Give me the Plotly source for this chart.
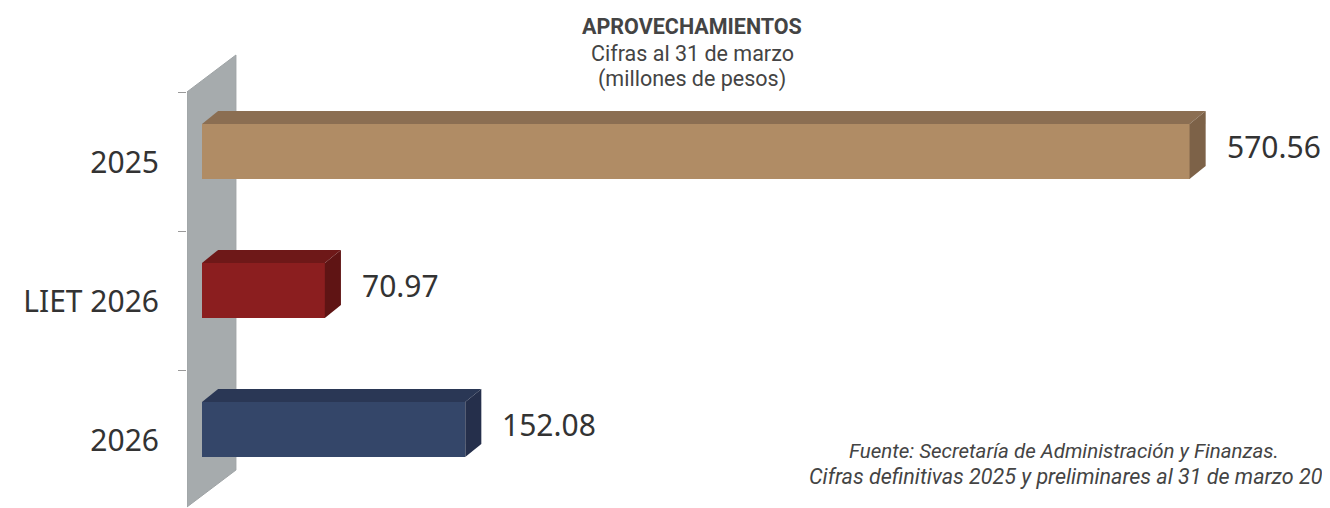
import plotly.graph_objects as go

# Datos del gráfico (millones de pesos)
categorias = ["2025", "LIET 2026", "2026"]
valores = [570.56, 70.97, 152.08]
etiquetas = ["570.56", "70.97", "152.08"]

# Colores de cada barra: cara frontal, cara superior y cara lateral
color_frente = ["#b08c65", "#8b1e1f", "#344669"]
color_superior = ["#8b6e52", "#6e1818", "#2a3755"]
color_lateral = ["#7d6248", "#5f1414", "#252f4b"]

lineas_titulo = ["<b>APROVECHAMIENTOS</b>", "Cifras al 31 de marzo", "(millones de pesos)"]
linea_fuente = "<i>Fuente: Secretaría de Administración y Finanzas.</i>"
linea_cifras = "<i>Cifras definitivas 2025 y preliminares al 31 de marzo 2026.</i>"

# Geometría del efecto 3D (en unidades de los ejes)
ANCHO_BARRA = 0.396
DESPLAZAMIENTO = -0.277
PROF_X = 9.3
PROF_Y = 0.094


def papel_y(px):
    # convierte una altura en píxeles (de la imagen original) a coordenadas paper
    return (508 - px) / 468


def papel_x(px):
    return (px - 187) / 1143


def generate_plot():
    fig = go.Figure()

    # Paso 1: caras frontales (barras horizontales)
    posiciones = list(range(len(categorias)))
    fig.add_trace(
        go.Bar(
            x=valores,
            y=posiciones,
            orientation="h",
            width=ANCHO_BARRA,
            offset=DESPLAZAMIENTO,
            marker=dict(color=color_frente, line=dict(width=0)),
            hoverinfo="skip",
            showlegend=False,
        )
    )

    # Paso 2: caras superior y lateral calculadas a partir de cada valor
    for i, v in enumerate(valores):
        y_arriba = i + DESPLAZAMIENTO
        y_abajo = y_arriba + ANCHO_BARRA
        fig.add_trace(
            go.Scatter(
                x=[0, v, v + PROF_X, PROF_X, 0],
                y=[y_arriba, y_arriba, y_arriba - PROF_Y, y_arriba - PROF_Y, y_arriba],
                mode="lines",
                fill="toself",
                fillcolor=color_superior[i],
                line=dict(width=0),
                hoverinfo="skip",
                showlegend=False,
            )
        )
        fig.add_trace(
            go.Scatter(
                x=[v, v + PROF_X, v + PROF_X, v, v],
                y=[y_arriba, y_arriba - PROF_Y, y_abajo - PROF_Y, y_abajo, y_arriba],
                mode="lines",
                fill="toself",
                fillcolor=color_lateral[i],
                line=dict(width=0),
                hoverinfo="skip",
                showlegend=False,
            )
        )
        # etiqueta del valor a la derecha de la barra
        fig.add_annotation(
            x=v + PROF_X + 11,
            y=(y_arriba + y_abajo) / 2 - 0.035,
            text=etiquetas[i],
            showarrow=False,
            xanchor="left",
            yanchor="middle",
            font=dict(family="Noto Sans", size=30, color="#333333"),
        )

    # Paso 3: pared gris del fondo
    fig.add_shape(
        type="path",
        path="M -8.7,-0.507 L 19.6,-0.773 L 19.6,2.213 L -8.7,2.479 Z",
        xref="x",
        yref="y",
        fillcolor="#a6abad",
        line=dict(color="#9ea3a5", width=1),
        layer="below",
    )

    # Paso 4: títulos (una anotación por línea) y nota de fuente
    for texto, arriba in zip(lineas_titulo, [12.1, 38.6, 63.6]):
        fig.add_annotation(
            x=papel_x(692),
            y=papel_y(arriba),
            xref="paper",
            yref="paper",
            text=texto,
            showarrow=False,
            xanchor="center",
            yanchor="top",
            font=dict(family="Roboto", size=21.5, color="#444444"),
        )

    fig.add_annotation(
        x=papel_x(1064),
        y=papel_y(451),
        xref="paper",
        yref="paper",
        text=linea_fuente,
        showarrow=False,
        xanchor="center",
        yanchor="middle",
        font=dict(family="Roboto", size=20.5, color="#444444"),
    )
    # la segunda línea queda recortada en el borde derecho, como en el original
    fig.add_annotation(
        x=papel_x(807),
        y=papel_y(476),
        xref="paper",
        yref="paper",
        text=linea_cifras,
        showarrow=False,
        xanchor="left",
        yanchor="middle",
        font=dict(family="Roboto", size=21.5, color="#444444"),
    )

    # Paso 5: ejes y estilo general
    fig.update_xaxes(visible=False, range=[-8.67, 651.7], fixedrange=True)
    fig.update_yaxes(
        range=[2.486, -0.881],
        tickmode="array",
        tickvals=posiciones,
        ticktext=categorias,
        ticks="",
        ticklabelstandoff=27,
        showgrid=False,
        zeroline=False,
        showline=False,
        tickfont=dict(family="Noto Sans", size=30, color="#333333"),
        minor=dict(
            tickmode="array",
            tickvals=[-0.5, 0.5, 1.5],
            ticks="outside",
            ticklen=8,
            tickwidth=1,
            tickcolor="#9a9a9a",
        ),
        fixedrange=True,
    )
    # la página agrega 8 px de margen; la figura ocupa el resto de la ventana
    fig.update_layout(
        width=1322,
        height=500,
        margin=dict(l=179, r=0, t=32, b=0),
        paper_bgcolor="white",
        plot_bgcolor="white",
        showlegend=False,
        bargap=0,
    )

    fig.write_html("out.html")


if __name__ == "__main__":
    generate_plot()
